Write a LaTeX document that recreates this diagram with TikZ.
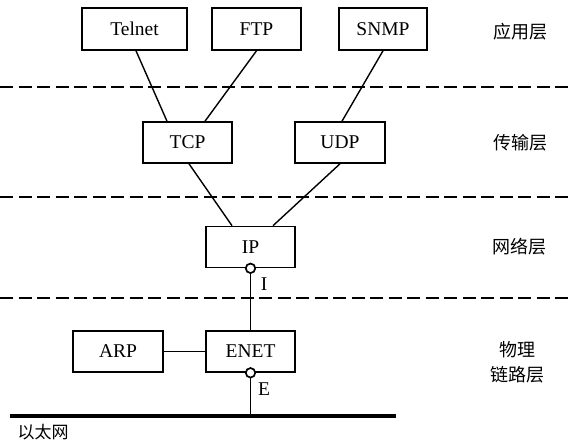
\documentclass[tikz,border=0pt]{standalone}
\usepackage{fontspec}
\setmainfont{Liberation Serif}
\newfontfamily\cjk{Noto Sans CJK SC}
\begin{document}
\begin{tikzpicture}[x=1pt,y=-1pt,
  box/.style={draw,line width=1.6pt,minimum height=41pt,inner sep=0pt,font=\fontsize{19.5}{21}\selectfont},
  conn/.style={line width=1.4pt},
  sep/.style={line width=1.7pt,dash pattern=on 13pt off 5.5pt},
  lay/.style={font=\cjk\fontsize{18}{25}\selectfont,align=center,inner sep=0pt},
  port/.style={circle,draw,fill=white,line width=1.7pt,minimum size=9.5pt,inner sep=0pt},
  plab/.style={font=\fontsize{19.5}{21}\selectfont,inner sep=0pt}]
\useasboundingbox (0,0) rectangle (570,443);
\fill[white] (0,0) rectangle (570,443);

% layer separators
\coordinate (d1L) at (0,87);  \coordinate (d1R) at (570,87);
\coordinate (d2L) at (0,197); \coordinate (d2R) at (570,197);
\coordinate (d3L) at (0,298); \coordinate (d3R) at (570,298);
\draw[sep] (d1L) -- (d1R);
\draw[sep] (d2L) -- (d2R);
\draw[sep] (d3L) -- (d3R);

% boxes
\node[box,minimum width=105pt,minimum height=42pt] (telnet) at (134.5,29) {Telnet};
\node[box,minimum width=89pt,minimum height=42pt] (ftp) at (256.5,29) {FTP};
\node[box,minimum width=88pt,minimum height=42pt] (snmp) at (383,29) {SNMP};
\node[box,minimum width=89pt] (tcp) at (187.5,142.5) {TCP};
\node[box,minimum width=90pt] (udp) at (340,142.5) {UDP};
\node[box,minimum width=89pt] (ip) at (250.5,247) {IP};
\node[box,minimum width=90pt] (arp) at (118,351.5) {ARP};
\node[box,minimum width=89pt] (enet) at (250.5,351.5) {ENET};

% ports
\node[port] (pi) at (ip.south) {};
\node[port] (pe) at (enet.south) {};
\node[plab] (li) at (264,284) {I};
\node[plab] (le) at (264,389) {E};

% ethernet
\coordinate (eL) at (10,416);
\coordinate (eR) at (396,416);
\coordinate (eJ) at (pe.south |- eL);
\draw[line width=3.2pt] (eL) -- (eR);
\node[lay,font=\cjk\fontsize{17}{20}\selectfont] (eth) at (43,432) {以太网};

% connectors
\draw[conn] ([xshift=1.5pt]telnet.south) -- ([xshift=-20.5pt]tcp.north);
\draw[conn] (ftp.south) -- ([xshift=17.5pt]tcp.north);
\draw[conn] (snmp.south) -- ([xshift=2pt]udp.north);
\draw[conn] ([xshift=1.5pt]tcp.south) -- ([xshift=-18.5pt]ip.north);
\draw[conn] (udp.south) -- ([xshift=22.5pt]ip.north);
\draw[conn] (arp.east) -- (enet.west);
\draw[conn] (pi.south) -- (enet.north);
\draw[conn] (pe.south) -- (eJ);

% layer labels
\node[lay] (l1) at (520,32) {应用层};
\node[lay] (l2) at (520,143) {传输层};
\node[lay] (l3) at (519,247) {网络层};
\node[lay] (l4) at (517,362) {物理\\链路层};
\end{tikzpicture}
\end{document}
